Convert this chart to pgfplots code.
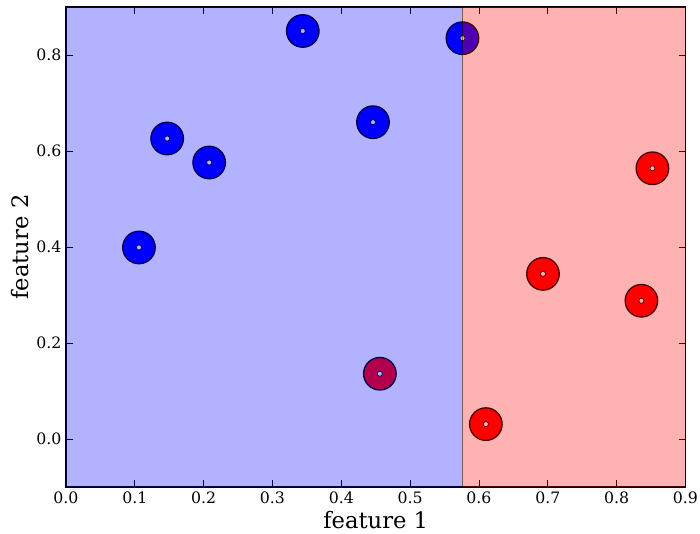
\documentclass[border=0pt]{standalone}
\usepackage{fontspec}
\setmainfont{DejaVu Serif}
\usepackage{pgfplots}
\pgfplotsset{compat=1.18}

\begin{document}
\begin{tikzpicture}
\begin{axis}[
    scale only axis,
    width=464.6pt,
    height=360pt,
    xmin=0, xmax=0.9,
    ymin=-0.1, ymax=0.9,
    xtick={0,0.1,...,0.9},
    ytick={0,0.2,...,0.8},
    tick align=inside,
    major tick length=5pt,
    tick style={black, line width=0.6pt},
    axis line style={black, line width=1pt},
    xticklabel style={/pgf/number format/fixed, /pgf/number format/precision=1, /pgf/number format/fixed zerofill},
    yticklabel style={/pgf/number format/fixed, /pgf/number format/precision=1, /pgf/number format/fixed zerofill},
    /pgf/number format/assume math mode=true,
    ticklabel style={font=\fontsize{11.8}{13}\selectfont},
    xlabel={feature 1},
    ylabel={feature 2},
    label style={font=\fontsize{17}{20}\selectfont},
    xlabel style={yshift=1pt},
    ylabel style={yshift=-1pt},
    clip marker paths=true,
]
% class 0 points
\addplot[only marks, mark=*, mark size=12.2pt, mark options={fill=blue, draw=black, line width=1pt}]
  coordinates {(0.106,0.399) (0.147,0.626) (0.208,0.576) (0.344,0.850) (0.446,0.660) (0.576,0.835)};
% class 1 points
\addplot[only marks, mark=*, mark size=12.2pt, mark options={fill=red, draw=black, line width=1pt}]
  coordinates {(0.456,0.136) (0.693,0.344) (0.852,0.564) (0.836,0.288) (0.610,0.031)};
% centre dots
\addplot[only marks, mark=*, mark size=1.9pt, mark options={fill=white, draw=black, line width=0.5pt}]
  coordinates {(0.106,0.399) (0.147,0.626) (0.208,0.576) (0.344,0.850) (0.446,0.660) (0.576,0.835)
               (0.456,0.136) (0.693,0.344) (0.852,0.564) (0.836,0.288) (0.610,0.031)};
% decision regions
\addplot[draw=none, fill=blue, fill opacity=0.3]
  coordinates {(0,-0.1) (0.576,-0.1) (0.576,0.9) (0,0.9)} -- cycle;
\addplot[draw=none, fill=red, fill opacity=0.3]
  coordinates {(0.576,-0.1) (0.9,-0.1) (0.9,0.9) (0.576,0.9)} -- cycle;
\addplot[black, opacity=0.5, line width=0.8pt] coordinates {(0.576,-0.1) (0.576,0.9)};
\end{axis}
\pgfresetboundingbox
\path[use as bounding box] ([xshift=-49.5pt,yshift=-35.25pt]current axis.south west)
  rectangle ([xshift=10.9pt,yshift=5.25pt]current axis.north east);
\end{tikzpicture}
\end{document}
